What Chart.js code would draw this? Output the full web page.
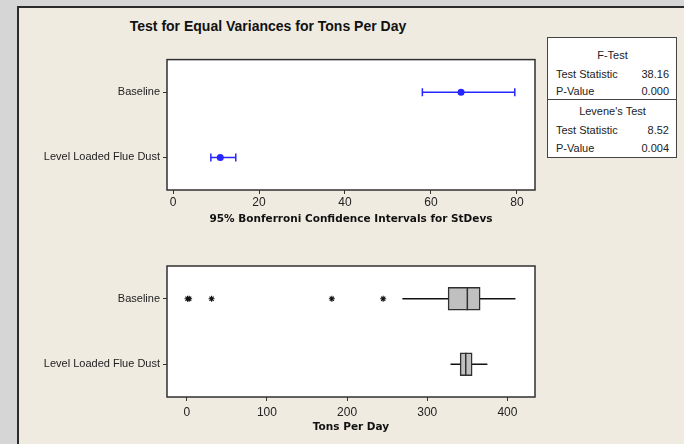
<!DOCTYPE html>
<html>
<head>
<meta charset="utf-8">
<script src="https://cdn.jsdelivr.net/npm/chart.js@4/dist/chart.umd.min.js"></script>
<style>
  body { margin: 0; width: 684px; height: 444px; overflow: hidden; background: #d6d6d6; font-family: "Liberation Sans", sans-serif; color: #222; }
  #frame { position: absolute; left: 17px; top: 6px; width: 720px; height: 480px; border: 2px solid #2b2b2b; background: #efebe1; }
  #title { position: absolute; left: 0; width: 536px; top: 18px; text-align: center; font-family: "Liberation Sans", sans-serif; font-weight: bold; font-size: 14px; color: #111; }
  canvas { position: absolute; }
  #top { left: 0; top: 50px; }
  #bottom { left: 0; top: 255px; }
  #stats { position: absolute; left: 547px; top: 37px; width: 128px; height: 119px; border: 1.5px solid #444; background: #fff; font-size: 11px; }
  #stats div { position: absolute; left: 8px; right: 7px; line-height: 14px; }
  #stats .hd { text-align: center; }
  #stats .v { position: absolute; right: 0; }
  #stats .sep { left: 0; right: 0; top: 61px; height: 0; border-top: 1.5px solid #444; }
</style>
</head>
<body>
<div id="frame"></div>
<div id="title">Test for Equal Variances for Tons Per Day</div>
<div id="stats"></div>
<canvas id="top" width="545" height="185"></canvas>
<canvas id="bottom" width="545" height="185"></canvas>
<script>
// groups, top to bottom
const groups = ["Baseline", "Level Loaded Flue Dust"];

// 95% Bonferroni CIs for StDevs
const sdLower = [58, 8.8];
const sdEstimate = [67, 11];
const sdUpper = [79.5, 14.6];

// boxplot of Tons Per Day
const whiskerLow = [269, 329];
const q1 = [326, 341];
const median = [350, 348];
const q3 = [366, 356];
const whiskerHigh = [410, 375];
const outliers = [[1, 3, 31, 181, 245], []];

// test results
const fTest = ["F-Test", "38.16", "0.000"];
const leveneTest = ["Levene's Test", "8.52", "0.004"];

let stats = document.getElementById("stats");
let rows = [
  ["hd", fTest[0], "", 10],
  ["", "Test Statistic", fTest[1], 29],
  ["", "P-Value", fTest[2], 46],
  ["hd", leveneTest[0], "", 66],
  ["", "Test Statistic", leveneTest[1], 85],
  ["", "P-Value", leveneTest[2], 103],
];
rows.forEach((r) => {
  let d = document.createElement("div");
  d.className = r[0];
  d.style.top = r[3] + "px";
  d.textContent = r[1];
  if (r[2]) {
    let v = document.createElement("span");
    v.className = "v";
    v.textContent = r[2];
    d.appendChild(v);
  }
  stats.appendChild(d);
});
let sep = document.createElement("div");
sep.className = "sep";
stats.appendChild(sep);

const plotFrame = {
  id: "plotFrame",
  beforeDraw(chart) {
    const { ctx, chartArea: a } = chart;
    ctx.save();
    ctx.fillStyle = "#fff";
    ctx.fillRect(a.left, a.top, a.width, a.height);
    ctx.restore();
  },
  afterDraw(chart) {
    const { ctx, chartArea: a } = chart;
    ctx.save();
    ctx.strokeStyle = "#303030";
    ctx.lineWidth = 1.5;
    ctx.strokeRect(a.left, a.top, a.width, a.height);
    ctx.restore();
  },
};

const tickFont = { family: "Liberation Sans", size: 12 };
const labelFont = { family: "Liberation Sans", size: 11 };
const titleFont = { family: "DejaVu Sans", size: 10.5, weight: "bold" };

function yAxis() {
  return {
    type: "category",
    labels: groups,
    offset: true,
    afterFit: (s) => { s.width = 167; },
    grid: { display: true, drawOnChartArea: false, drawTicks: true, tickLength: 4, offset: false, color: "#333" },
    border: { display: false },
    ticks: { font: labelFont, color: "#222", padding: 3 },
  };
}

function xAxis(min, max, step, title, h, tickPad, titlePad) {
  return {
    type: "linear",
    min: min,
    max: max,
    afterFit: (s) => { s.height = h; },
    grid: { display: true, drawOnChartArea: false, drawTicks: true, tickLength: 4, color: "#333" },
    border: { display: false },
    ticks: { stepSize: step, includeBounds: false, font: tickFont, color: "#222", padding: tickPad, maxRotation: 0 },
    title: { display: true, text: title, font: titleFont, color: "#111", padding: { top: 3, bottom: titlePad } },
  };
}

// top: confidence intervals
const blue = "#2626ff";
let ciSets = groups.map((g, i) => ({
  data: [{ x: sdLower[i], y: g }, { x: sdUpper[i], y: g }],
  borderColor: blue,
  borderWidth: 1.5,
  pointStyle: "line",
  pointRotation: 90,
  pointRadius: 4,
  pointBorderWidth: 1.5,
  pointBorderColor: blue,
}));
ciSets.unshift({
  data: groups.map((g, i) => ({ x: sdEstimate[i], y: g })),
  showLine: false,
  pointStyle: "circle",
  pointRadius: 3.5,
  pointBackgroundColor: blue,
  pointBorderColor: blue,
  pointBorderWidth: 0,
});

new Chart(document.getElementById("top"), {
  type: "line",
  data: { datasets: ciSets },
  options: {
    responsive: false,
    animation: false,
    layout: { autoPadding: false, padding: { top: 8, right: 10, left: 0, bottom: 0 } },
    plugins: { legend: { display: false }, tooltip: { enabled: false } },
    scales: {
      x: xAxis(-1.4, 84.2, 20, "95% Bonferroni Confidence Intervals for StDevs", 45, 1, 9),
      y: yAxis(),
    },
  },
  plugins: [plotFrame],
});

// bottom: boxplots
let outlierPts = [];
groups.forEach((g, i) => outliers[i].forEach((v) => outlierPts.push({ x: v, y: g })));

let boxSets = [
  {
    type: "line",
    order: 0,
    data: groups.map((g, i) => ({ x: median[i], y: g })),
    showLine: false,
    pointStyle: "line",
    pointRotation: 90,
    pointRadius: 11.5,
    pointBorderWidth: 1.5,
    pointBorderColor: "#303030",
  },
  {
    type: "line",
    order: 1,
    data: outlierPts,
    showLine: false,
    pointStyle: "star",
    pointRadius: 3,
    pointBorderWidth: 1.1,
    pointBorderColor: "#111",
  },
  {
    type: "bar",
    order: 2,
    data: groups.map((g, i) => [q1[i], q3[i]]),
    backgroundColor: "#c0c0c0",
    borderColor: "#303030",
    borderWidth: 1.5,
    borderSkipped: false,
    barThickness: 23,
  },
];
groups.forEach((g, i) => {
  boxSets.push({
    type: "line",
    order: 3,
    data: [{ x: whiskerLow[i], y: g }, { x: whiskerHigh[i], y: g }],
    borderColor: "#111",
    borderWidth: 1.3,
    pointRadius: 0,
  });
});

new Chart(document.getElementById("bottom"), {
  type: "bar",
  data: { labels: groups, datasets: boxSets },
  options: {
    indexAxis: "y",
    responsive: false,
    animation: false,
    layout: { autoPadding: false, padding: { top: 11, right: 10, left: 0, bottom: 0 } },
    plugins: { legend: { display: false }, tooltip: { enabled: false } },
    scales: {
      x: xAxis(-24.6, 434.4, 100, "Tons Per Day", 43, 4, 6),
      y: yAxis(),
    },
  },
  plugins: [plotFrame],
});
</script>
</body>
</html>
